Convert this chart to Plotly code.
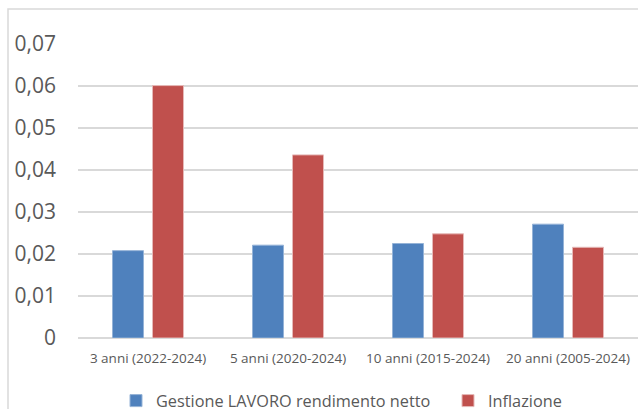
import plotly.graph_objects as go

# Dati del grafico
periodi = ["3 anni (2022-2024)", "5 anni (2020-2024)", "10 anni (2015-2024)", "20 anni (2005-2024)"]
rendimento_netto = [0.0208, 0.0221, 0.0225, 0.0271]
inflazione = [0.0601, 0.0436, 0.0248, 0.0216]

y_ticks = [0, 0.01, 0.02, 0.03, 0.04, 0.05, 0.06, 0.07]
y_labels = ["0", "0,01", "0,02", "0,03", "0,04", "0,05", "0,06", "0,07"]

W, H = 638, 409
L, R, T, B = 78, 0, 44, 71
pw, ph = W - L - R, H - T - B

fig = go.Figure()
fig.add_trace(go.Bar(
    x=periodi, y=rendimento_netto,
    name="Gestione LAVORO rendimento netto",
    marker=dict(color="#4F81BD", line=dict(color="#95B3D7", width=1)),
    legend="legend",
))
fig.add_trace(go.Bar(
    x=periodi, y=inflazione,
    name="Inflazione",
    marker=dict(color="#C0504D", line=dict(color="#E6B9B8", width=1)),
    legend="legend2",
))

# bordo del riquadro (tagliato a destra e in basso)
fig.add_shape(
    type="rect", xref="paper", yref="paper",
    x0=(8 - L) / pw, x1=1.2, y0=-0.5, y1=(ph + T - 9) / ph,
    line=dict(color="#D9D9D9", width=1.5), fillcolor="rgba(0,0,0,0)",
    layer="below",
)

leg_y = (ph - (401 - T)) / ph
leg_font = dict(size=16.3, color="#595959")

fig.update_layout(
    width=W, height=H,
    margin=dict(l=L, r=R, t=T, b=B, autoexpand=False),
    barmode="group",
    bargap=0.4286,
    bargroupgap=0.225,
    paper_bgcolor="white",
    plot_bgcolor="white",
    font=dict(family="Open Sans", color="#595959"),
    showlegend=True,
    legend=dict(
        orientation="h", x=(116 - L) / pw, xanchor="left",
        y=leg_y, yanchor="middle", font=leg_font,
    ),
    legend2=dict(
        orientation="h", x=(448 - L) / pw, xanchor="left",
        y=leg_y, yanchor="middle", font=leg_font,
    ),
    xaxis=dict(
        showgrid=False,
        showline=False,
        ticks="",
        tickfont=dict(size=13.5, color="#595959"),
        ticklabelstandoff=10,
    ),
    yaxis=dict(
        range=[0, 0.07],
        tickvals=y_ticks,
        ticktext=y_labels,
        showgrid=True,
        gridcolor="#D9D9D9",
        gridwidth=1.5,
        zeroline=True,
        zerolinecolor="#D9D9D9",
        zerolinewidth=1.5,
        tickfont=dict(size=21, color="#595959"),
        ticklabelstandoff=21,
    ),
)

fig.write_html(
    "out.html",
    config={"displayModeBar": False},
    post_script="document.body.style.margin='0';document.body.style.overflow='hidden';",
)
